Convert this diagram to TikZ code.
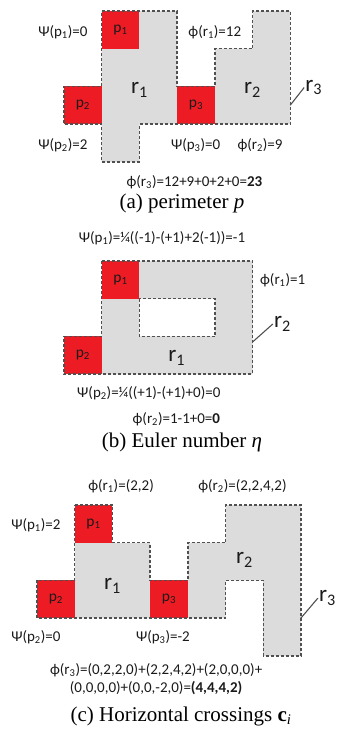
\documentclass[tikz,border=0pt]{standalone}
\usepackage{fontspec}
\setmainfont{Liberation Serif}
\newfontfamily\calib{Carlito}
\usetikzlibrary{positioning}

\definecolor{regiongray}{HTML}{DCDCDC}
\definecolor{pixelred}{HTML}{ED1C24}
\definecolor{edgegray}{HTML}{505050}
\definecolor{textdark}{HTML}{1A1A1A}

\newcommand{\idx}[1]{\textsubscript{#1}}

\begin{document}
\begin{tikzpicture}[
    x=1pt, y=-1pt,
    region/.style={fill=regiongray},
    pixel/.style={fill=pixelred},
    outline/.style={draw=edgegray, line width=1.4pt, dash pattern=on 3pt off 2pt},
    pointer/.style={draw=edgegray, line width=1.1pt},
    measure/.style={font=\calib\fontsize{15}{18}\selectfont, text=textdark, inner sep=1pt},
    pixname/.style={font=\calib\fontsize{15.5}{18}\selectfont, text=textdark, inner sep=0pt},
    regname/.style={font=\calib\fontsize{23}{25}\selectfont, text=textdark, inner sep=1pt},
    caption/.style={font=\fontsize{21}{23}\selectfont, inner sep=0pt}
]
\useasboundingbox (0,0) rectangle (340,731);

% --- (a) perimeter ---
\begin{scope}[shift={(64,11)}, x=37.7pt, y=-37.7pt]
  % regions
  \fill[region] (1,0) -- (3,0) -- (3,3) -- (2,3) -- (2,4) -- (1,4) -- cycle;
  \fill[region] (4,1) -- (5,1) -- (5,0) -- (6,0) -- (6,3) -- (4,3) -- cycle;
  % pixels
  \fill[pixel] (1,0) rectangle (2,1);
  \fill[pixel] (0,2) rectangle (1,3);
  \fill[pixel] (3,2) rectangle (4,3);
  % outline of r3
  \draw[outline] (1,0) -- (3,0) -- (3,2) -- (4,2) -- (4,1) -- (5,1) -- (5,0) -- (6,0)
    -- (6,3) -- (2,3) -- (2,4) -- (1,4) -- (1,3) -- (0,3) -- (0,2) -- (1,2) -- cycle;

  \node[pixname] (a-p1) at (1.5,0.5) {p\idx{1}};
  \node[pixname] (a-p2) at (0.5,2.5) {p\idx{2}};
  \node[pixname] (a-p3) at (3.5,2.5) {p\idx{3}};
  \node[regname] (a-r1) at (2.0,2.1) {r\idx{1}};
  \node[regname] (a-r2) at (5.0,2.1) {r\idx{2}};

  \coordinate (a-pin) at (6,2.5);
  \coordinate (a-tip) at (6.37,2.03);
  \node[regname, anchor=west] (a-r3) at (a-tip) {r\idx{3}};
  \draw[pointer] (a-pin) -- (a-r3.west);

  \node[measure] (a-psi1) at (-0.03,0.56) {Ψ(p\idx{1})=0};
  \node[measure] (a-phi1) at (4.0,0.56) {ϕ(r\idx{1})=12};
  \node[measure] (a-psi2) at (-0.03,3.55) {Ψ(p\idx{2})=2};
  \node[measure] (a-psi3) at (3.49,3.55) {Ψ(p\idx{3})=0};
  \node[measure] (a-phi2) at (5.2,3.55) {ϕ(r\idx{2})=9};
  \node[measure] (a-phi3) at (3.46,4.54) {ϕ(r\idx{3})=12+9+0+2+0={\bfseries 23}};
\end{scope}
\node[caption] (cap-a) at (182,203) {(a) perimeter \textit{p}};

% --- (b) Euler number ---
\begin{scope}[shift={(64,261)}, x=37.7pt, y=-37.7pt]
  \fill[region, even odd rule] (1,0) -- (5,0) -- (5,3) -- (1,3) -- cycle
    (2,1) rectangle (4,2);
  \fill[pixel] (1,0) rectangle (2,1);
  \fill[pixel] (0,2) rectangle (1,3);
  \draw[outline] (1,0) -- (5,0) -- (5,3) -- (0,3) -- (0,2) -- (1,2) -- cycle;
  \draw[outline] (2,1) rectangle (4,2);

  \node[pixname] (b-p1) at (1.5,0.5) {p\idx{1}};
  \node[pixname] (b-p2) at (0.5,2.5) {p\idx{2}};
  \node[regname] (b-r1) at (2.99,2.57) {r\idx{1}};

  \coordinate (b-pin) at (5,2.15);
  \coordinate (b-tip) at (5.54,1.67);
  \node[regname, anchor=west] (b-r2) at (b-tip) {r\idx{2}};
  \draw[pointer] (b-pin) -- (b-r2.west);

  \node[measure] (b-psi1) at (2.6,-0.61) {Ψ(p\idx{1})=¼((-1)-(+1)+2(-1))=-1};
  \node[measure] (b-phi1) at (5.8,0.5) {ϕ(r\idx{1})=1};
  \node[measure] (b-psi2) at (2.25,3.5) {Ψ(p\idx{2})=¼((+1)-(+1)+0)=0};
  \node[measure] (b-phi2) at (2.98,4.19) {ϕ(r\idx{2})=1-1+0={\bfseries 0}};
\end{scope}
\node[caption] (cap-b) at (182,442) {(b) Euler number \textit{η}};

% --- (c) horizontal crossings ---
\begin{scope}[shift={(37,505)}, x=37.7pt, y=-37.7pt]
  \fill[region] (1,1) rectangle (3,3);
  \fill[region] (4,1) -- (5,1) -- (5,0) -- (7,0) -- (7,4) -- (6,4) -- (6,2) -- (5,2)
    -- (5,3) -- (4,3) -- cycle;
  \fill[pixel] (1,0) rectangle (2,1);
  \fill[pixel] (0,2) rectangle (1,3);
  \fill[pixel] (3,2) rectangle (4,3);
  \draw[outline] (1,0) -- (2,0) -- (2,1) -- (3,1) -- (3,2) -- (4,2) -- (4,1) -- (5,1)
    -- (5,0) -- (7,0) -- (7,4) -- (6,4) -- (6,2) -- (5,2) -- (5,3) -- (0,3) -- (0,2)
    -- (1,2) -- cycle;

  \node[pixname] (c-p1) at (1.5,0.5) {p\idx{1}};
  \node[pixname] (c-p2) at (0.5,2.5) {p\idx{2}};
  \node[pixname] (c-p3) at (3.5,2.5) {p\idx{3}};
  \node[regname] (c-r1) at (2.0,2.15) {r\idx{1}};
  \node[regname] (c-r2) at (5.5,1.46) {r\idx{2}};

  \coordinate (c-pin) at (7,3);
  \coordinate (c-tip) at (7.45,2.47);
  \node[regname, anchor=west] (c-r3) at (c-tip) {r\idx{3}};
  \draw[pointer] (c-pin) -- (c-r3.west);

  \node[measure] (c-phi1) at (2.23,-0.5) {ϕ(r\idx{1})=(2,2)};
  \node[measure] (c-phi2) at (5.45,-0.5) {ϕ(r\idx{2})=(2,2,4,2)};
  \node[measure] (c-psi1) at (-0.03,0.53) {Ψ(p\idx{1})=2};
  \node[measure] (c-psi2) at (-0.03,3.5) {Ψ(p\idx{2})=0};
  \node[measure] (c-psi3) at (3.34,3.5) {Ψ(p\idx{3})=-2};
  \node[measure, align=center] (c-phi3) at (3.16,4.62)
    {ϕ(r\idx{3})=(0,2,2,0)+(2,2,4,2)+(2,0,0,0)+\\(0,0,0,0)+(0,0,-2,0)={\bfseries (4,4,4,2)}};
\end{scope}
\node[caption] (cap-c) at (181,716) {(c) Horizontal crossings \textbf{c}\textsubscript{\textit{i}}};

\end{tikzpicture}
\end{document}
